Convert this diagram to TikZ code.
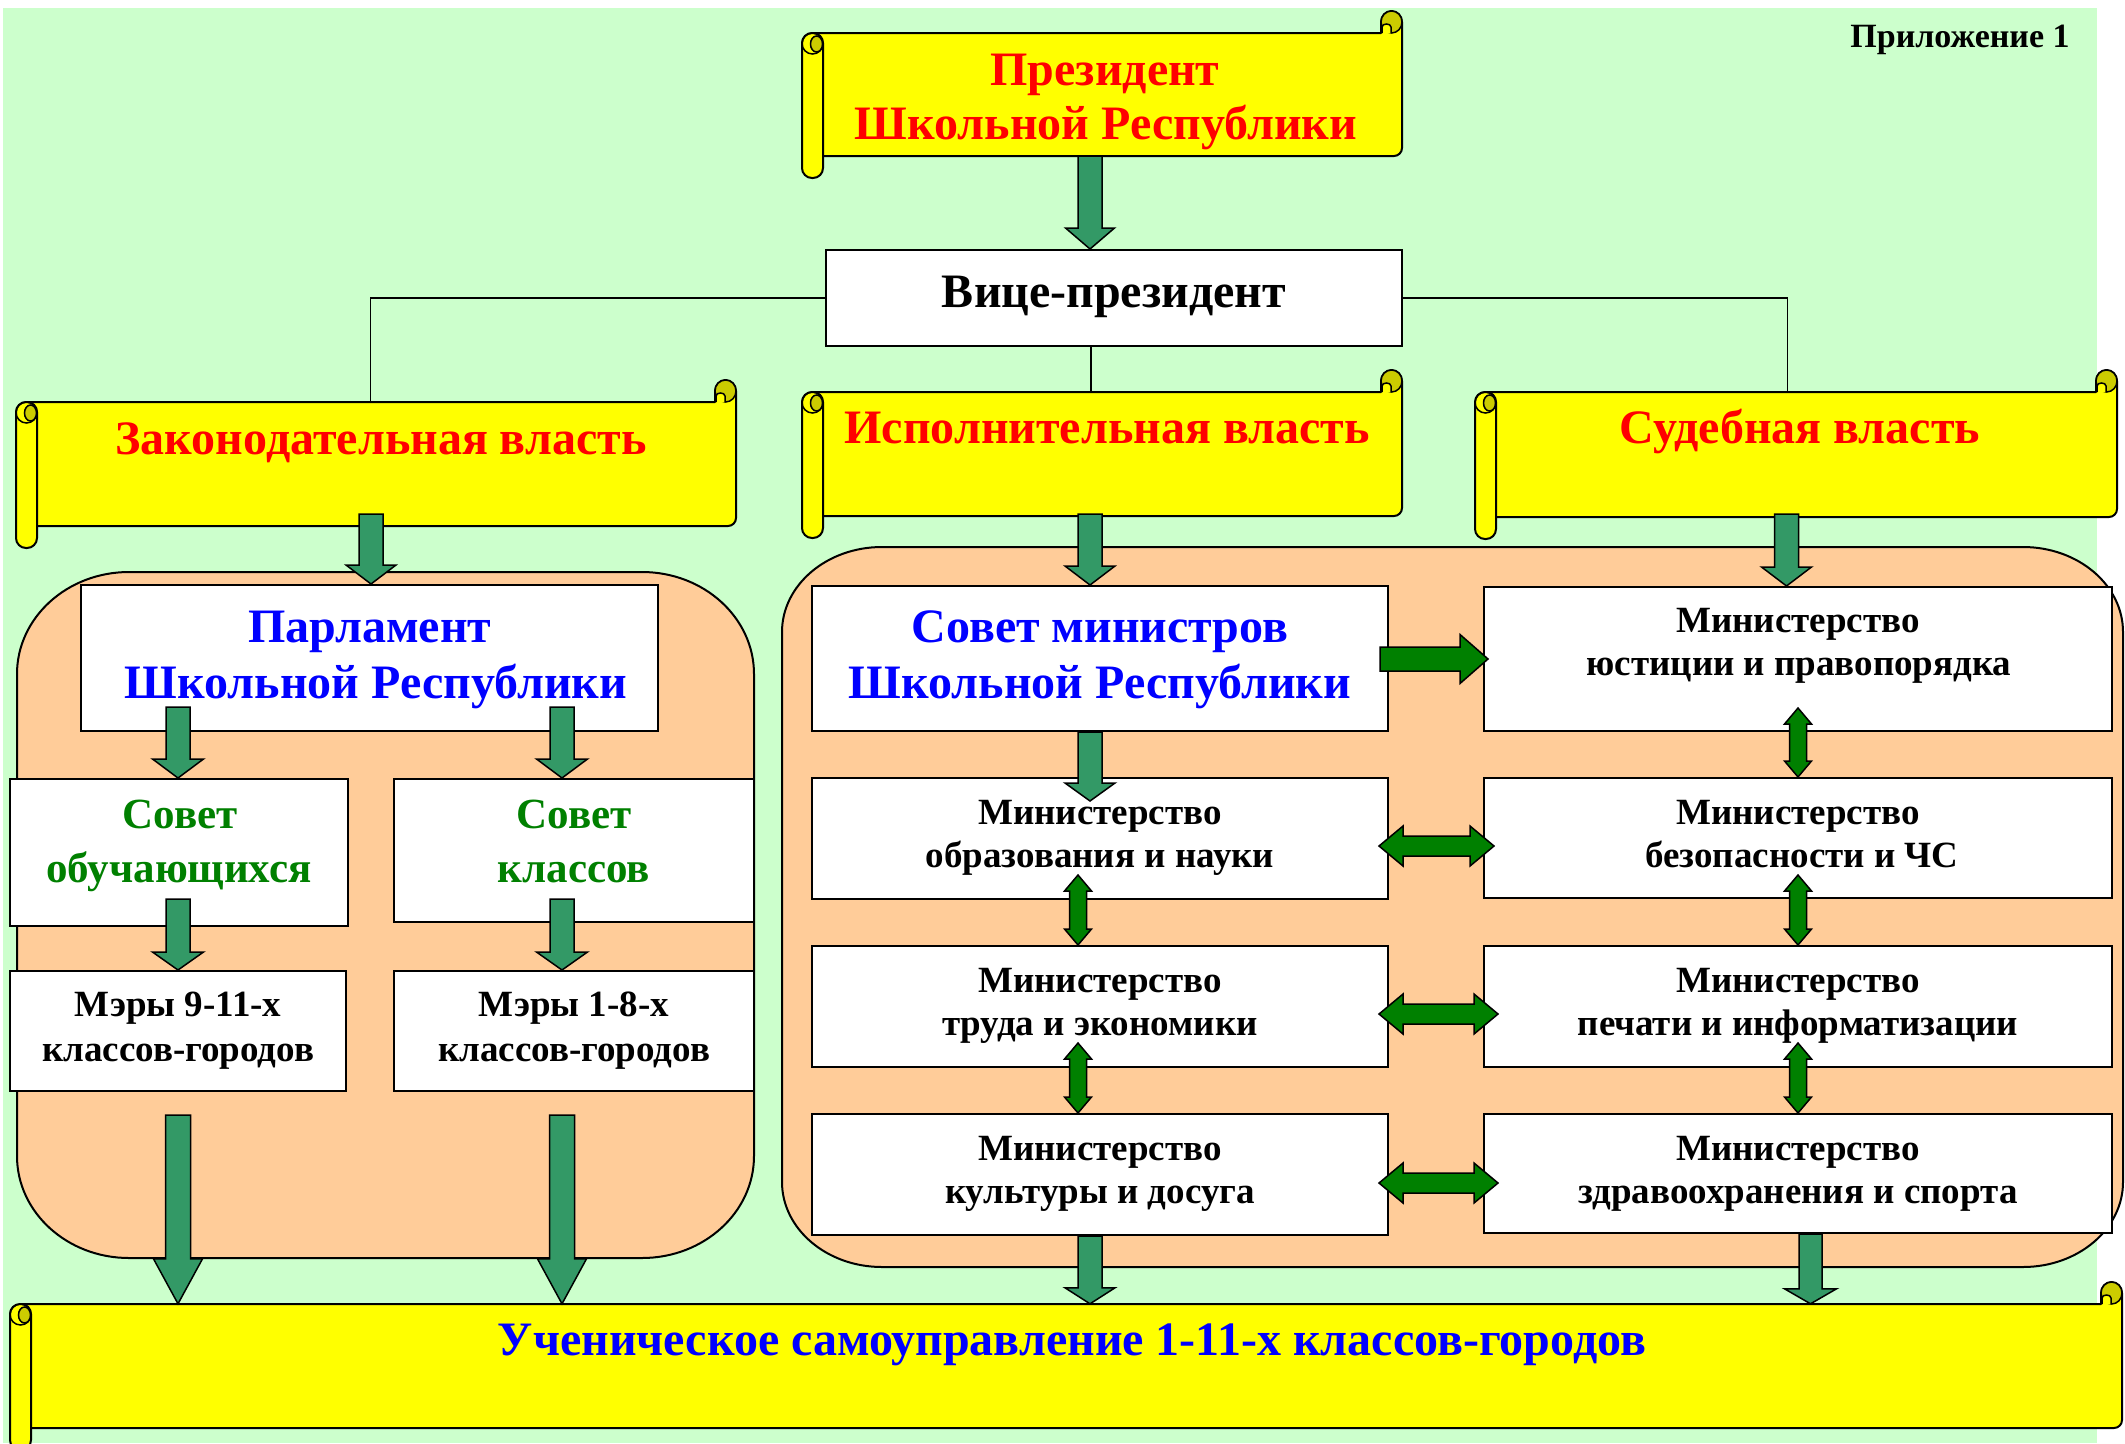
\documentclass[tikz,border=0pt]{standalone}
\usepackage{fontspec}
\setmainfont{Liberation Serif}
\usetikzlibrary{calc}
\definecolor{bggreen}{HTML}{CCFFCC}
\definecolor{syellow}{HTML}{FFFF00}
\definecolor{cyellow}{HTML}{CCCC00}
\definecolor{orng}{HTML}{FFCC99}
\definecolor{agreen}{HTML}{339966}
\definecolor{dgreen}{HTML}{008000}
\definecolor{tred}{HTML}{FF0000}
\definecolor{tblue}{HTML}{0000FF}
\definecolor{tgreen}{HTML}{008000}
\tikzset{
 box/.style={draw=black, line width=2pt, fill=white, inner sep=0pt, rectangle},
 conn/.style={draw=black, line width=1.5pt},
 bigtxt/.style={font=\fontsize{48}{52}\selectfont\bfseries, inner sep=0pt, anchor=base},
 midtxt/.style={font=\fontsize{37}{40}\selectfont\bfseries, inner sep=0pt, anchor=base},
 smalltxt/.style={font=\fontsize{34}{36}\selectfont\bfseries, inner sep=0pt, anchor=base},
 grntxt/.style={font=\fontsize{43}{46}\selectfont\bfseries, inner sep=0pt, anchor=base, text=tgreen},
 fatarrow/.style={draw=black, line width=1.5pt, line join=miter, fill=agreen},
 thinarrow/.style={draw=black, line width=1.5pt, line join=miter, fill=dgreen},
}
% box node from corners
\newcommand\boxnode[5]{\node[box, minimum width={#4-#2}, minimum height={#5-#3}] (#1) at ({(#2+#4)/2},{(#3+#5)/2}) {};}
% fat down arrow: start, tip, shaft half, head half, head length
\newcommand\fatdn[6][fatarrow]{\path[#1] let \p1=#2, \p2=#3 in (\x2-#4,\y1) -- (\x2+#4,\y1) -- (\x2+#4,\y2+#6) -- (\x2+#5,\y2+#6) -- (\x2,\y2) -- (\x2-#5,\y2+#6) -- (\x2-#4,\y2+#6) -- cycle;}
% vertical double arrow: top tip, bottom tip, shaft half, head half, head length
\newcommand\vdbl[5]{\path[thinarrow] let \p1=#1, \p2=#2 in (\x1,\y1) -- (\x1+#4,\y1-#5) -- (\x1+#3,\y1-#5) -- (\x1+#3,\y2+#5) -- (\x1+#4,\y2+#5) -- (\x1,\y2) -- (\x1-#4,\y2+#5) -- (\x1-#3,\y2+#5) -- (\x1-#3,\y1-#5) -- (\x1-#4,\y1-#5) -- cycle;}
% horizontal double arrow: left tip, right tip
\newcommand\hdbl[5]{\path[thinarrow] let \p1=#1, \p2=#2 in (\x1,\y1) -- (\x1+#5,\y1+#4) -- (\x1+#5,\y1+#3) -- (\x2-#5,\y1+#3) -- (\x2-#5,\y1+#4) -- (\x2,\y1) -- (\x2-#5,\y1-#4) -- (\x2-#5,\y1-#3) -- (\x1+#5,\y1-#3) -- (\x1+#5,\y1-#4) -- cycle;}
% right arrow: start, tip
\newcommand\rarrow[5]{\path[thinarrow] let \p1=#1, \p2=#2 in (\x1,\y2+#3) -- (\x2-#5,\y2+#3) -- (\x2-#5,\y2+#4) -- (\x2,\y2) -- (\x2-#5,\y2-#4) -- (\x2-#5,\y2-#3) -- (\x1,\y2-#3) -- cycle;}
% rounded region x1,y1,x2,y2,rx,ry
\newcommand\roundregion[6]{\path[draw=black,line width=2pt,fill=orng] ({#1},{#2+#6}) .. controls ({#1},{#2+0.4477*#6}) and ({#1+0.4477*#5},{#2}) .. ({#1+#5},{#2}) -- ({#3-#5},{#2}) .. controls ({#3-0.4477*#5},{#2}) and ({#3},{#2+0.4477*#6}) .. ({#3},{#2+#6}) -- ({#3},{#4-#6}) .. controls ({#3},{#4-0.4477*#6}) and ({#3-0.4477*#5},{#4}) .. ({#3-#5},{#4}) -- ({#1+#5},{#4}) .. controls ({#1+0.4477*#5},{#4}) and ({#1},{#4-0.4477*#6}) .. ({#1},{#4-#6}) -- cycle;}
% scroll: name, l, t, r, b
\newcommand\scrollshape[5]{%
 \path[draw=black,line width=2pt,fill=syellow,line join=round]
  ({#2+10.5},{#3+22}) -- ({#4-21},{#3+22}) -- ({#4-21},{#3+11})
  .. controls ({#4-21},{#3+4.9}) and ({#4-16.3},{#3}) .. ({#4-10.5},{#3})
  .. controls ({#4-4.7},{#3}) and ({#4},{#3+4.9}) .. ({#4},{#3+11})
  -- ({#4},{#5-30}) .. controls ({#4},{#5-25.6}) and ({#4-3.6},{#5-22}) .. ({#4-8},{#5-22})
  -- ({#2+10.5},{#5-22}) -- cycle;
 \path[draw=black,line width=1.5pt,fill=cyellow] ({#4-10.5},{#3+11}) ellipse [x radius=10.5pt,y radius=11pt];
 \path[draw=black,line width=1.5pt,fill=syellow] ({#4-20},{#3+22}) -- ({#4-20},{#3+16}) .. controls ({#4-20},{#3+12}) and ({#4-11},{#3+12}) .. ({#4-11},{#3+16}) -- ({#4-11},{#3+22});
 \path[draw=black,line width=2pt,fill=syellow,rounded corners=10pt] ({#2},{#3+22}) rectangle ({#2+21},{#5});
 \path[draw=black,line width=1.5pt] ({#2+10.5},{#3+32.5}) circle [radius=10.5pt];
 \path[draw=black,line width=1.5pt,fill=cyellow] ({#2+14.5},{#3+33}) ellipse [x radius=6pt,y radius=8pt];
 \node[inner sep=0pt,minimum width={#4-#2-10.5},minimum height={#5-#3-44}] (#1) at ({(#2+10.5+#4)/2},{(#3+#5)/2}) {};
}
\begin{document}
\begin{tikzpicture}[x=1pt,y=-1pt]
\useasboundingbox (0,0) rectangle (2125,1443);
\fill[white] (0,0) rectangle (2125,1443);
\fill[bggreen] (3,8) rectangle (2097,1443);
\node[smalltxt] (appx) at (1960,47) {Приложение 1};
% regions
\roundregion{17}{572}{754}{1258}{112}{102}
\roundregion{782}{547}{2123}{1267}{100}{85}
% vice box
\boxnode{vice}{826}{250}{1402}{346}
% scrolls
\scrollshape{pres}{802}{11}{1402}{178}
\scrollshape{zak}{16}{380}{736}{548}
\scrollshape{isp}{802}{370}{1402}{538}
\scrollshape{sud}{1475}{370}{2117}{539}
\scrollshape{ban}{10}{1282}{2122}{1450}
% connector lines
\draw[conn] (vice.west) -| ([xshift=-11pt]zak.north);
\draw[conn] (vice.east) -| ([xshift=-14pt]sud.north);
\draw[conn] ([xshift=-23pt]vice.south) -- ([xshift=-23pt]vice.south |- isp.north);
% boxes
\boxnode{parl}{81}{585}{658}{731}
\boxnode{so}{10}{779}{348}{926}
\boxnode{sk}{394}{779}{754}{922}
\boxnode{m1}{10}{971}{346}{1091}
\boxnode{m2}{394}{971}{754}{1091}
\boxnode{sm}{812}{586}{1388}{731}
\boxnode{ju}{1484}{587}{2112}{731}
\boxnode{r1l}{812}{778}{1388}{899}
\boxnode{r1r}{1484}{778}{2112}{898}
\boxnode{r2l}{812}{946}{1388}{1067}
\boxnode{r2r}{1484}{946}{2112}{1067}
\boxnode{r3l}{812}{1114}{1388}{1235}
\boxnode{r3r}{1484}{1114}{2112}{1233}
% fat arrows
\fatdn{(pres.south)}{([xshift=-24pt]vice.north)}{12pt}{24.5pt}{21pt}
\fatdn{([yshift=12pt]zak.south)}{([xshift=1.5pt]parl.north)}{12pt}{25pt}{19pt}
\fatdn{([yshift=2pt]isp.south)}{([xshift=-10pt]sm.north)}{12pt}{25pt}{19pt}
\fatdn{([yshift=3pt]sud.south)}{([xshift=-11.5pt]ju.north)}{12pt}{25pt}{19pt}
\fatdn{([yshift=25pt]parl.south)}{([xshift=-1pt]so.north)}{12pt}{25.5pt}{19pt}
\fatdn{([yshift=25pt]parl.south)}{([xshift=-12pt]sk.north)}{12pt}{25.5pt}{19pt}
\fatdn{([yshift=28pt]so.south)}{(m1.north)}{12pt}{25.5pt}{18pt}
\fatdn{([yshift=24pt]sk.south)}{([xshift=-12pt]m2.north)}{12pt}{25.5pt}{18pt}
\fatdn{([yshift=-23pt]m1.south)}{(m1.south |- ban.north)}{12.5pt}{24.5pt}{45pt}
\fatdn{([xshift=-12pt,yshift=-23pt]m2.south)}{([xshift=-12pt]m2.south |- ban.north)}{12.5pt}{24.5pt}{45pt}
\fatdn{(sm.south)}{([xshift=-10pt,yshift=-24pt]r1l.north)}{12pt}{25pt}{18pt}
\fatdn{([xshift=-10pt]r3l.south)}{([xshift=-10pt]r3l.south |- ban.north)}{12pt}{25pt}{16pt}
\fatdn{([xshift=12.5pt]r3r.south)}{([xshift=12.5pt]r3r.south |- ban.north)}{11.5pt}{26pt}{15pt}
% green arrows
\rarrow{([xshift=-9pt]sm.east)}{([xshift=5pt]ju.west)}{12pt}{24.5pt}{28pt}
\hdbl{([xshift=-10pt,yshift=-7.5pt]r1l.east)}{([xshift=11pt]r1r.west)}{10pt}{20pt}{24pt}
\hdbl{([xshift=-10pt,yshift=-7.5pt]r2l.east)}{([xshift=15pt]r2r.west)}{10pt}{20pt}{24pt}
\hdbl{([xshift=-10pt,yshift=-8.5pt]r3l.east)}{([xshift=15pt]r3r.west)}{10pt}{20pt}{24pt}
\vdbl{([xshift=-22pt,yshift=25pt]r1l.south)}{([xshift=-22pt]r2l.north)}{8.5pt}{13.5pt}{16pt}
\vdbl{([xshift=-22pt,yshift=25pt]r2l.south)}{([xshift=-22pt]r3l.north)}{8.5pt}{13.5pt}{16pt}
\vdbl{([yshift=24pt]ju.south)}{(r1r.north)}{8.5pt}{13.5pt}{16pt}
\vdbl{([yshift=24pt]r1r.south)}{(r2r.north)}{8.5pt}{13.5pt}{16pt}
\vdbl{([yshift=25pt]r2r.south)}{(r3r.north)}{8.5pt}{13.5pt}{16pt}
% texts
\node[bigtxt,text=tred] (tpres1) at (1105,85) {Президент};
\node[bigtxt,text=tred] (tpres2) at (1106,139) {Школьной Республики};
\node[bigtxt] (tvice) at (1114,307) {Вице-президент};
\node[bigtxt,text=tred] (tzak) at (381,454) {Законодательная власть};
\node[bigtxt,text=tred] (tisp) at (1107,443) {Исполнительная власть};
\node[bigtxt,text=tred] (tsud) at (1800,443) {Судебная власть};
\node[bigtxt,text=tblue] (tparl1) at (370,642) {Парламент};
\node[bigtxt,text=tblue] (tparl2) at (376,698) {Школьной Республики};
\node[grntxt] (tso1) at (180,828) {Совет};
\node[grntxt] (tso2) at (179,882) {обучающихся};
\node[grntxt] (tsk1) at (574,828) {Совет};
\node[grntxt] (tsk2) at (574,882) {классов};
\node[midtxt] (tm11) at (178,1016) {Мэры 9-11-х};
\node[midtxt] (tm12) at (178,1061) {классов-городов};
\node[midtxt] (tm21) at (574,1016) {Мэры 1-8-х};
\node[midtxt] (tm22) at (574,1061) {классов-городов};
\node[bigtxt,text=tblue] (tsm1) at (1100,642) {Совет министров};
\node[bigtxt,text=tblue] (tsm2) at (1100,698) {Школьной Республики};
\node[midtxt] (tju1) at (1798,632) {Министерство};
\node[midtxt] (tju2) at (1799,675) {юстиции и правопорядка};
\node[midtxt] (tr1l1) at (1100,824) {Министерство};
\node[midtxt] (tr1l2) at (1100,867) {образования и науки};
\node[midtxt] (tr1r1) at (1798,824) {Министерство};
\node[midtxt] (tr1r2) at (1802,867) {безопасности и ЧС};
\node[midtxt] (tr2l1) at (1100,992) {Министерство};
\node[midtxt] (tr2l2) at (1100,1035) {труда и экономики};
\node[midtxt] (tr2r1) at (1798,992) {Министерство};
\node[midtxt] (tr2r2) at (1798,1035) {печати и информатизации};
\node[midtxt] (tr3l1) at (1100,1160) {Министерство};
\node[midtxt] (tr3l2) at (1100,1203) {культуры и досуга};
\node[midtxt] (tr3r1) at (1798,1160) {Министерство};
\node[midtxt] (tr3r2) at (1798,1203) {здравоохранения и спорта};
\node[bigtxt,text=tblue] (tban) at (1072,1355) {Ученическое самоуправление 1-11-х классов-городов};
\end{tikzpicture}
\end{document}
